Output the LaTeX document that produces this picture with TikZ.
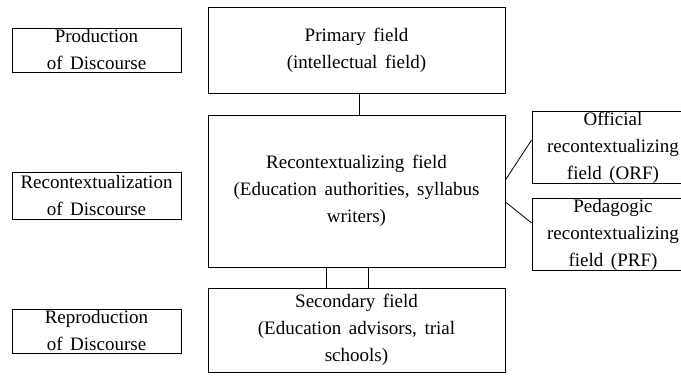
\documentclass[tikz,border=0pt]{standalone}
\usepackage{fontspec}
\setmainfont{Liberation Serif}[WordSpace={1.6,1,1}]
\tikzset{
  fieldbox/.style={draw, line width=0.8pt, align=center, inner sep=0pt,
    font=\fontsize{19}{27}\selectfont},
  link/.style={line width=0.8pt}
}
\begin{document}
\begin{tikzpicture}[x=1pt,y=-1pt]
			\useasboundingbox (0,0) rectangle (681,377);
			\clip (0,0) rectangle (681,377);
			
			% discourse levels
			\node[fieldbox, minimum width=169, minimum height=44] (prod) at (96.5,50) {Production\\of Discourse};
			\node[fieldbox, minimum width=169, minimum height=47] (rctx) at (96.5,195.5) {Recontextualization\\of Discourse};
			\node[fieldbox, minimum width=169, minimum height=44] (repr) at (96.5,331) {Reproduction\\of Discourse};
			
			% fields
			\node[fieldbox, minimum width=297, minimum height=86] (prim) at (356.5,50) {Primary field\\(intellectual field)};
			\node[fieldbox, minimum width=297, minimum height=152] (recon) at (356.5,191) {Recontextualizing field\\(Education authorities, syllabus\\writers)};
			\node[fieldbox, minimum width=297, minimum height=84] (sec) at (356.5,330) {Secondary field\\(Education advisors, trial\\schools)};
			
			% sub-fields, cut off at the right edge
			\node[fieldbox, minimum width=162, minimum height=65] (orf) at (613,147.5) {Official\\recontextualizing\\field (ORF)};
			\node[fieldbox, minimum width=162, minimum height=65] (prf) at (613,234.5) {Pedagogic\\recontextualizing\\field (PRF)};
			
			\draw[link] ([xshift=2.5pt]prim.south) -- ([xshift=2.5pt]recon.north);
			\draw[link] ([xshift=-30.5pt]recon.south) -- ([xshift=-30.5pt]sec.north);
			\draw[link] ([xshift=11.5pt]recon.south) -- ([xshift=11.5pt]sec.north);
			\draw[link] ([yshift=11pt]recon.east) -- ([yshift=7.5pt]orf.west);
			\draw[link] ([yshift=-11pt]recon.east) -- ([yshift=11.5pt]prf.west);
		\end{tikzpicture}
\end{document}
